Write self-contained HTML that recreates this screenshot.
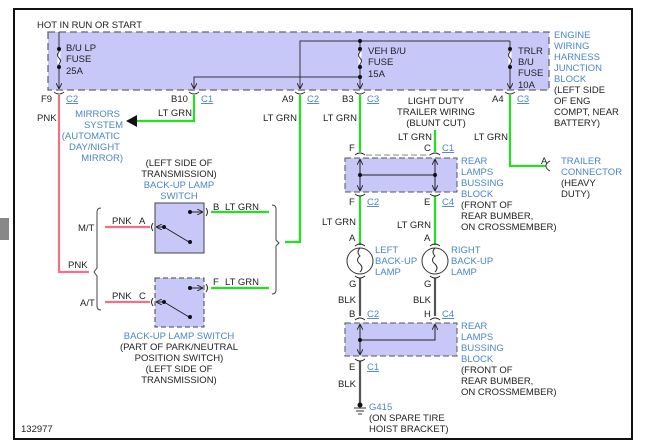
<!DOCTYPE html>
<html><head><meta charset="utf-8"><style>
html,body{margin:0;padding:0;background:#fff;}
svg{display:block;}
text{font-family:"Liberation Sans",sans-serif;font-size:9.5px;fill:#222;}
.b{fill:#4a86c8;}
.u{fill:#4a86c8;text-decoration:underline;}
</style></head><body>
<svg width="650" height="447" viewBox="0 0 650 447">
<defs>
<marker id="ar" viewBox="0 0 10 10" refX="10" refY="5" markerWidth="6" markerHeight="6" orient="auto"><path d="M0,0 L10,5 L0,10" fill="none" stroke="#222" stroke-width="1.5"/></marker>
</defs>
<rect x="0" y="218" width="9" height="22" fill="#888"/>
<rect x="14" y="9" width="618" height="430" fill="none" stroke="#111" stroke-width="2"/>
<!-- junction block -->
<rect x="48" y="32" width="501" height="58" fill="#c8c8f8" stroke="#666" stroke-dasharray="7,4" stroke-width="1.3"/>
<g stroke="#333" stroke-width="1" fill="none">
<line x1="59" y1="32" x2="59" y2="89" marker-end="url(#ar)"/>
<path d="M300,89 V41 H510"/>
<line x1="300" y1="41" x2="300" y2="89" marker-end="url(#ar)"/>
<path d="M360,41 V89" marker-end="url(#ar)"/>
<path d="M510,41 V89" marker-end="url(#ar)"/>
<path d="M360,77 H194 V89" marker-end="url(#ar)"/>
</g>
<g fill="#111">
<circle cx="59" cy="49" r="2"/><circle cx="59" cy="67" r="2"/>
<circle cx="360" cy="41" r="2"/><circle cx="360" cy="49" r="2"/><circle cx="360" cy="67" r="2"/><circle cx="360" cy="77" r="2"/>
<circle cx="510" cy="49" r="2"/><circle cx="510" cy="67" r="2"/>
</g>
<g stroke="#fff" stroke-width="3"><line x1="59" y1="52" x2="59" y2="64"/><line x1="360" y1="52" x2="360" y2="64"/><line x1="510" y1="52" x2="510" y2="64"/></g>
<g stroke="#333" fill="none" stroke-width="1">
<path d="M59,52 q-3,3 0,6 q3,3 0,6"/><path d="M360,52 q-3,3 0,6 q3,3 0,6"/><path d="M510,52 q-3,3 0,6 q3,3 0,6"/>
</g>
<!-- connector cups -->
<g stroke="#333" fill="none" stroke-width="1">
<path d="M54,92 q5,4 10,0"/><path d="M189,92 q5,4 10,0"/><path d="M295,92 q5,4 10,0"/><path d="M355,92 q5,4 10,0"/><path d="M505,92 q5,4 10,0"/>
</g>
<!-- wires -->
<g fill="none" stroke-width="2.2">
<path d="M59,95 V272 H89" stroke="#f07088"/>
<path d="M105,227 H150" stroke="#f07088"/>
<path d="M105,302 H150" stroke="#f07088"/>
<path d="M194,95 V121 H136" stroke="#22e022"/>
<path d="M300,95 V242 H285" stroke="#22e022"/>
<path d="M211,212 H269" stroke="#22e022"/>
<path d="M211,288 H269" stroke="#22e022"/>
<path d="M360,95 V152" stroke="#22e022"/>
<path d="M435,130 V152" stroke="#22e022"/>
<path d="M360,196 V245" stroke="#22e022"/>
<path d="M435,196 V245" stroke="#22e022"/>
<path d="M510,95 V166 H546" stroke="#22e022"/>
<path d="M360,278 V316" stroke="#555"/>
<path d="M435,278 V316" stroke="#555"/>
<path d="M360,361 V405" stroke="#555"/>
</g>
<path d="M126,121 L137,115 L137,127 Z" fill="#111"/>
<!-- brackets -->
<g stroke="#444" fill="none" stroke-width="1">
<path d="M101,208 q-4,0 -4,4 V268 l-3,4 l3,4 V306 q0,4 4,4"/>
<path d="M272,205 q4,0 4,4 V240 l3,3 l-3,3 V290 q0,4 -4,4"/>
<path d="M550,161 q-4,2 -4,5 q0,3 4,5"/>
</g>
<!-- switches -->
<rect x="155" y="203" width="49" height="50" fill="#c8c8f8" stroke="#444" stroke-width="1"/>
<rect x="155" y="278" width="49" height="49" fill="#c8c8f8" stroke="#444" stroke-width="1" stroke-dasharray="5,3"/>
<g stroke="#222" fill="none" stroke-width="1">
<path d="M191,212 H203" marker-end="url(#ar)"/><path d="M206,208 q3,4 0,8"/>
<path d="M164,227 H156" marker-end="url(#ar)"/><path d="M153,223 q-3,4 0,8"/>
<line x1="164" y1="227" x2="189" y2="242"/>
<path d="M191,288 H203" marker-end="url(#ar)"/><path d="M206,284 q3,4 0,8"/>
<path d="M164,302 H156" marker-end="url(#ar)"/><path d="M153,298 q-3,4 0,8"/>
<line x1="164" y1="302" x2="189" y2="317"/>
</g>
<g fill="#111"><circle cx="190" cy="212" r="2"/><circle cx="164" cy="227" r="2"/><circle cx="190" cy="242" r="2"/><circle cx="190" cy="288" r="2"/><circle cx="164" cy="302" r="2"/><circle cx="190" cy="317" r="2"/></g>
<!-- rear bussing blocks -->
<line x1="366" y1="155" x2="430" y2="155" stroke="#888" stroke-dasharray="6,3"/>
<rect x="345" y="158" width="112" height="34" fill="#c8c8f8" stroke="#555" stroke-dasharray="6,3"/>
<rect x="345" y="323" width="112" height="33" fill="#c8c8f8" stroke="#555" stroke-dasharray="6,3"/>
<g stroke="#222" fill="none" stroke-width="1">
<path d="M360,175 V159" marker-end="url(#ar)"/><path d="M360,175 V191" marker-end="url(#ar)"/>
<path d="M435,175 V159" marker-end="url(#ar)"/><path d="M435,175 V191" marker-end="url(#ar)"/>
<line x1="360" y1="175" x2="435" y2="175"/>
<path d="M360,340 V324" marker-end="url(#ar)"/><path d="M360,340 V355" marker-end="url(#ar)"/>
<path d="M360,340 H435 V324" marker-end="url(#ar)"/>
<path d="M355,155 q5,-4 10,0"/><path d="M430,155 q5,-4 10,0"/>
<path d="M355,194 q5,4 10,0"/><path d="M430,194 q5,4 10,0"/>
<path d="M355,320 q5,-4 10,0"/><path d="M430,320 q5,-4 10,0"/>
<path d="M355,359 q5,4 10,0"/>
<path d="M355,246 q5,-4 10,0"/><path d="M430,246 q5,-4 10,0"/>
<path d="M355,276 q5,4 10,0"/><path d="M430,276 q5,4 10,0"/>
</g>
<g fill="#111"><circle cx="360" cy="175" r="2"/><circle cx="435" cy="175" r="2"/><circle cx="360" cy="340" r="2"/></g>
<!-- lamps -->
<g stroke="#333" fill="none" stroke-width="1">
<circle cx="360" cy="261" r="13"/><circle cx="435" cy="261" r="13"/>
<path d="M360,248 q-4,4 0,8 q-5,4 0,8 q4,4 0,8"/><path d="M435,248 q-4,4 0,8 q-5,4 0,8 q4,4 0,8"/>
</g>
<!-- ground -->
<circle cx="360" cy="405" r="2.5" fill="#111"/>
<g stroke="#333"><line x1="354" y1="408" x2="366" y2="408"/><line x1="356" y1="411" x2="364" y2="411"/><line x1="358" y1="414" x2="362" y2="414"/></g>
<!-- text -->
<text x="37" y="28">HOT IN RUN OR START</text>
<text x="66" y="51">B/U LP</text><text x="66" y="62">FUSE</text><text x="66" y="74">25A</text>
<text x="368" y="54">VEH B/U</text><text x="368" y="65">FUSE</text><text x="368" y="77">15A</text>
<text x="518" y="54">TRLR</text><text x="518" y="65">B/U</text><text x="518" y="76">FUSE</text><text x="518" y="88">10A</text>
<text class="b" x="554" y="38">ENGINE</text><text class="b" x="554" y="49">WIRING</text><text class="b" x="554" y="60">HARNESS</text><text class="b" x="554" y="71">JUNCTION</text><text class="b" x="554" y="82">BLOCK</text>
<text x="554" y="93">(LEFT SIDE</text><text x="554" y="104">OF ENG</text><text x="554" y="115">COMPT, NEAR</text><text x="554" y="126">BATTERY)</text>
<text x="41" y="102">F9</text><text class="u" x="66" y="102">C2</text>
<text x="171" y="102">B10</text><text class="u" x="201" y="102">C1</text>
<text x="282" y="102">A9</text><text class="u" x="307" y="102">C2</text>
<text x="342" y="102">B3</text><text class="u" x="367" y="102">C3</text>
<text x="492" y="102">A4</text><text class="u" x="517" y="102">C3</text>
<text x="37" y="121">PNK</text>
<text x="192" y="116" text-anchor="end">LT GRN</text>
<g text-anchor="end"><text class="b" x="120" y="117">MIRRORS</text><text class="b" x="123" y="128">SYSTEM</text><text class="b" x="120" y="139">(AUTOMATIC</text><text class="b" x="120" y="150">DAY/NIGHT</text><text class="b" x="123" y="161">MIRROR)</text>
<text x="297" y="121">LT GRN</text><text x="357" y="121">LT GRN</text><text x="432" y="140">LT GRN</text><text x="508" y="140">LT GRN</text>
<text x="356" y="225">LT GRN</text><text x="431" y="228">LT GRN</text>
<text x="356" y="303">BLK</text><text x="431" y="303">BLK</text><text x="356" y="387">BLK</text>
</g>
<g text-anchor="middle"><text x="436" y="104">LIGHT DUTY</text><text x="436" y="115">TRAILER WIRING</text><text x="436" y="126">(BLUNT CUT)</text>
<text x="179" y="166">(LEFT SIDE OF</text><text x="179" y="177">TRANSMISSION)</text><text class="b" x="179" y="188">BACK-UP LAMP</text><text class="b" x="179" y="199">SWITCH</text>
<text class="b" x="179" y="339">BACK-UP LAMP SWITCH</text><text x="179" y="350">(PART OF PARK/NEUTRAL</text><text x="179" y="361">POSITION SWITCH)</text><text x="179" y="372">(LEFT SIDE OF</text><text x="179" y="383">TRANSMISSION)</text>
</g>
<text x="349" y="151">F</text><text x="424" y="151">C</text><text class="u" x="442" y="151">C1</text>
<text x="349" y="205">F</text><text class="u" x="367" y="205">C2</text><text x="424" y="205">E</text><text class="u" x="442" y="205">C4</text>
<text x="349" y="241">A</text><text x="424" y="241">A</text>
<text x="349" y="287">G</text><text x="424" y="287">G</text>
<text x="349" y="317">B</text><text class="u" x="367" y="317">C2</text><text x="424" y="317">H</text><text class="u" x="442" y="317">C4</text>
<text x="349" y="370">E</text><text class="u" x="367" y="370">C1</text>
<text class="b" x="375" y="253">LEFT</text><text class="b" x="375" y="264">BACK-UP</text><text class="b" x="375" y="275">LAMP</text>
<text class="b" x="451" y="253">RIGHT</text><text class="b" x="451" y="264">BACK-UP</text><text class="b" x="451" y="275">LAMP</text>
<text class="b" x="461" y="164">REAR</text><text class="b" x="461" y="175">LAMPS</text><text class="b" x="461" y="186">BUSSING</text><text class="b" x="461" y="197">BLOCK</text><text x="461" y="208">(FRONT OF</text><text x="461" y="219">REAR BUMBER,</text><text x="461" y="230">ON CROSSMEMBER)</text>
<text class="b" x="461" y="329">REAR</text><text class="b" x="461" y="340">LAMPS</text><text class="b" x="461" y="351">BUSSING</text><text class="b" x="461" y="362">BLOCK</text><text x="461" y="373">(FRONT OF</text><text x="461" y="384">REAR BUMBER,</text><text x="461" y="395">ON CROSSMEMBER)</text>
<text class="b" x="369" y="410">G415</text><text x="369" y="421">(ON SPARE TIRE</text><text x="369" y="432">HOIST BRACKET)</text>
<text x="541" y="164">A</text><text class="b" x="561" y="164">TRAILER</text><text class="b" x="561" y="175">CONNECTOR</text><text x="561" y="186">(HEAVY</text><text x="561" y="197">DUTY)</text>
<text x="213" y="210">B</text><text x="225" y="210">LT GRN</text><text x="213" y="285">F</text><text x="225" y="285">LT GRN</text>
<text x="112" y="224">PNK</text><text x="139" y="224">A</text><text x="112" y="299">PNK</text><text x="139" y="299">C</text>
<text x="78" y="231">M/T</text><text x="68" y="268">PNK</text><text x="80" y="306">A/T</text>
<text x="21" y="432">132977</text>
</svg>
</body></html>
